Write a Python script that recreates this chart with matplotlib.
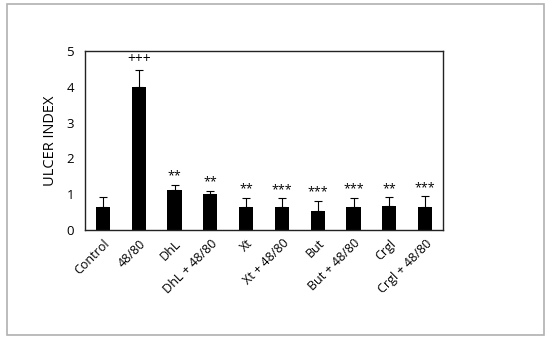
import matplotlib
matplotlib.use("Agg")
import matplotlib.pyplot as plt
from matplotlib.patches import Rectangle

categories = ["Control", "48/80", "DhL", "DhL + 48/80", "Xt", "Xt + 48/80",
              "But", "But + 48/80", "Crgl", "Crgl + 48/80"]
values = [0.65, 4.0, 1.12, 1.0, 0.65, 0.65, 0.52, 0.65, 0.68, 0.65]
errors = [0.28, 0.48, 0.14, 0.10, 0.25, 0.24, 0.30, 0.25, 0.24, 0.29]
marks = ["", "+++", "**", "**", "**", "***", "***", "***", "**", "***"]
yticks = [0, 1, 2, 3, 4, 5]

plt.rcParams['font.family'] = ['Open Sans', 'DejaVu Sans']

fig = plt.figure(figsize=(5.5, 3.41), dpi=100)
fig.patches.append(Rectangle((7/550, 1 - 335/341), (544-7)/550, (335-4)/341,
                             transform=fig.transFigure, fill=False,
                             edgecolor='#b0b0b0', linewidth=1.2))
ax = fig.add_axes([85/550, 1 - 230/341, (443-85)/550, (230-51)/341])

x = list(range(len(categories)))
ax.bar(x, values, width=0.4, color='black', zorder=2)
ax.errorbar(x, values, yerr=[[0]*len(values), errors], fmt='none',
            ecolor='black', elinewidth=0.8, capsize=3, capthick=0.8, zorder=1)
for xi, v, e, m in zip(x, values, errors, marks):
    if m:
        ax.text(xi, v + e + 0.06, m, ha='center', va='bottom',
                fontsize=10 if m.startswith('+') else 9)

ax.set_xlim(-0.5, len(categories) - 0.5)
ax.set_ylim(0, 5)
ax.set_yticks(yticks)
ax.set_xticks(x)
ax.set_xticklabels(categories, rotation=45, ha='right', rotation_mode='anchor', fontsize=9)
ax.tick_params(axis='y', labelsize=9.5, length=0, pad=8)
ax.tick_params(axis='x', length=0, pad=5)
ax.set_ylabel("ULCER INDEX", fontsize=10.5, labelpad=6)
for s in ax.spines.values():
    s.set_linewidth(1.0)
    s.set_color('#222222')

fig.savefig("out.png", dpi=100)
